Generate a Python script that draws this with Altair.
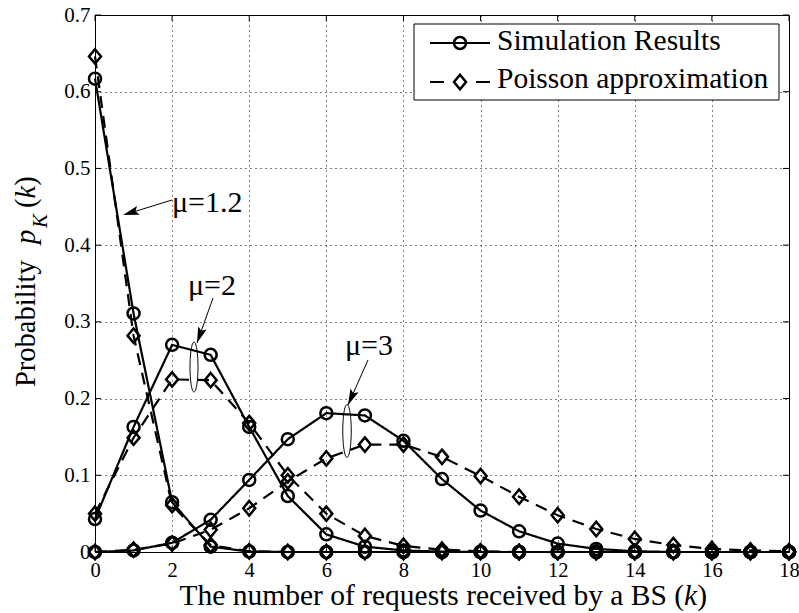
import altair as alt
import pandas as pd

# ---------------- data ----------------
k_values = list(range(19))

sim_mu12 = [0.617, 0.311, 0.065, 0.007, 0.0005, 0, 0, 0, 0, 0, 0, 0, 0, 0, 0, 0, 0, 0, 0]
poi_mu12 = [0.646, 0.282, 0.061, 0.009, 0.001, 0, 0, 0, 0, 0, 0, 0, 0, 0, 0, 0, 0, 0, 0]

sim_mu2 = [0.043, 0.163, 0.270, 0.257, 0.163, 0.073, 0.023, 0.007, 0.002, 0.0005, 0, 0, 0, 0, 0, 0, 0, 0, 0]
poi_mu2 = [0.050, 0.149, 0.225, 0.224, 0.168, 0.100, 0.050, 0.021, 0.008, 0.003, 0.001, 0, 0, 0, 0, 0, 0, 0, 0]

sim_mu3 = [0, 0.002, 0.012, 0.042, 0.094, 0.147, 0.181, 0.178, 0.145, 0.095, 0.054, 0.027, 0.011, 0.004, 0.001, 0, 0, 0, 0]
poi_mu3 = [0, 0.003, 0.011, 0.029, 0.057, 0.092, 0.122, 0.140, 0.140, 0.124, 0.099, 0.072, 0.048, 0.030, 0.017, 0.009, 0.004, 0.002, 0.001]

series_names = ["Simulation Results", "Poisson approximation"]
mu_labels = ["μ=1.2", "μ=2", "μ=3"]

x_ticks = [0, 2, 4, 6, 8, 10, 12, 14, 16, 18]
y_ticks = [0, 0.1, 0.2, 0.3, 0.4, 0.5, 0.6, 0.7]

rows = []
for mu, sim, poi in [("1.2", sim_mu12, poi_mu12), ("2", sim_mu2, poi_mu2), ("3", sim_mu3, poi_mu3)]:
    for kk, v in zip(k_values, sim):
        rows.append({"k": kk, "p": v, "mu": mu, "series": series_names[0]})
    for kk, v in zip(k_values, poi):
        rows.append({"k": kk, "p": v, "mu": mu, "series": series_names[1]})
df = pd.DataFrame(rows)

# ---------------- styling ----------------
W, H = 694, 537
FONT = "Liberation Serif"
DIAMOND = "M0,-1.2L1,0L0,1.2L-1,0Z"
ARROW = "M0,-1L0.45,0.6L0,0.3L-0.45,0.6Z"
ELLIPSE = "M0,-1A0.16,1,0,1,1,0,1A0.16,1,0,1,1,0,-1Z"

xs = alt.Scale(domain=[0, 18], nice=False, zero=False)
ys = alt.Scale(domain=[0, 0.7], nice=False)

x_axis = alt.Axis(values=x_ticks, title="", ticks=False, labelFlush=False,
                  labelFont=FONT, labelFontSize=20.5, labelColor="black", labelPadding=8,
                  domainColor="black", grid=True, gridColor="black", gridDash=[1, 4],
                  gridWidth=1, gridOpacity=1)
y_axis = alt.Axis(values=y_ticks, title="", ticks=False, labelFlush=False,
                  labelFont=FONT, labelFontSize=21, labelColor="black", labelPadding=5,
                  labelExpr="datum.value == 0 ? '0' : format(datum.value, '.1f')",
                  domainColor="black", grid=True, gridColor="black", gridDash=[1, 4],
                  gridWidth=1, gridOpacity=1)

base = alt.Chart(df)

lines = base.mark_line(color="black", strokeWidth=2.2).encode(
    x=alt.X("k:Q", scale=xs, axis=x_axis),
    y=alt.Y("p:Q", scale=ys, axis=y_axis),
    strokeDash=alt.StrokeDash("series:N", scale=alt.Scale(domain=series_names, range=[[1, 0], [12, 8]]), legend=None),
    detail="mu:N",
)

points = base.mark_point(filled=False, color="black", strokeWidth=2.5, size=144, opacity=1).encode(
    x=alt.X("k:Q", scale=xs),
    y=alt.Y("p:Q", scale=ys),
    shape=alt.Shape("series:N", scale=alt.Scale(domain=series_names, range=["circle", DIAMOND]), legend=None),
)

# inward tick marks (MATLAB style)
xt = alt.Chart(pd.DataFrame({"k": x_ticks}))
yt = alt.Chart(pd.DataFrame({"p": y_ticks}))
tick_bottom = xt.mark_rule(color="black").encode(x=alt.X("k:Q", scale=xs), y=alt.value(H), y2=alt.value(H - 6))
tick_top = xt.mark_rule(color="black").encode(x=alt.X("k:Q", scale=xs), y=alt.value(0), y2=alt.value(6))
tick_left = yt.mark_rule(color="black").encode(y=alt.Y("p:Q", scale=ys), x=alt.value(0), x2=alt.value(6))
tick_right = yt.mark_rule(color="black").encode(y=alt.Y("p:Q", scale=ys), x=alt.value(W), x2=alt.value(W - 6))

one = alt.Chart(pd.DataFrame({"a": [0]}))


def txt(s, x, y, size=28, align="left", angle=0, style="normal", baseline="alphabetic"):
    return one.mark_text(text=s, font=FONT, fontSize=size, color="black", align=align,
                         baseline=baseline, angle=angle, fontStyle=style).encode(
        x=alt.value(x), y=alt.value(y))


def seg(x1, y1, x2, y2, width=1, dash=None):
    kw = dict(color="black", strokeWidth=width)
    if dash:
        kw["strokeDash"] = dash
    return one.mark_rule(**kw).encode(x=alt.value(x1), y=alt.value(y1), x2=alt.value(x2), y2=alt.value(y2))


def sym(shape, x, y, size, angle=0, width=1, filled=False):
    return one.mark_point(shape=shape, size=size, angle=angle, filled=filled, color="black",
                          strokeWidth=width, opacity=1).encode(x=alt.value(x), y=alt.value(y))


annotations = [
    txt(mu_labels[0], 77, 197, size=30),
    seg(77, 185, 30, 199.5),
    sym(ARROW, 37.6, 197.1, 400, angle=253, filled=True),
    txt(mu_labels[1], 93, 280, size=30),
    seg(118, 283, 102, 328),
    sym(ARROW, 105.4, 318.6, 400, angle=199.6, filled=True),
    sym(ELLIPSE, 99, 352, 2500, width=1),
    txt(mu_labels[2], 250, 340, size=30),
    seg(273, 345, 253, 390),
    sym(ARROW, 257.1, 380.9, 400, angle=204, filled=True),
    sym(ELLIPSE, 252, 416, 2800, width=1),
]

legend_box = one.mark_rect(fill="white", stroke="black", strokeWidth=1).encode(
    x=alt.value(319), x2=alt.value(684), y=alt.value(9), y2=alt.value(85))
legend = [
    legend_box,
    seg(335, 28, 395, 28, width=2.2),
    sym("circle", 365, 28, 144, width=2.5),
    txt(series_names[0], 402, 35, size=29.5),
    seg(335, 67, 395, 67, width=2.2, dash=[14, 32]),
    sym(DIAMOND, 365, 67, 144, width=2.5),
    txt(series_names[1], 402, 73, size=29.5),
]

titles = [
    txt("The number of requests received by a BS (", 589.1, 590, size=29.5, align="right"),
    txt("k", 589.1, 590, size=29.5, style="italic"),
    txt(")", 602.2, 590, size=29.5),
    txt("Probability", -60, 372, size=28.5, angle=270),
    txt("p", -60, 229, size=28.5, angle=270, style="italic"),
    txt("K", -48, 213, size=21, angle=270, style="italic"),
    txt("(", -60, 193, size=28.5, angle=270),
    txt("k", -60, 183.5, size=28.5, angle=270, style="italic"),
    txt(")", -60, 170.8, size=28.5, angle=270),
]

chart = alt.layer(
    lines, points, tick_bottom, tick_top, tick_left, tick_right,
    *annotations, *legend, *titles
).properties(
    width=W, height=H,
    autosize=alt.AutoSizeParams(type="none"),
    padding={"left": 95, "top": 15, "right": 10, "bottom": 61},
    background="white",
).configure_view(stroke="black", strokeWidth=1)

chart.save("out.html", embed_options={"renderer": "svg", "actions": False})
